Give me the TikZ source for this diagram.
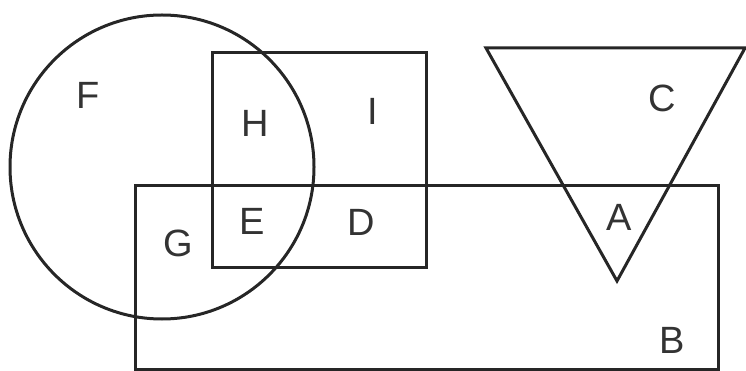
\documentclass[tikz,border=0pt]{standalone}
\usepackage{fontspec}
\setmainfont{Liberation Sans}
\begin{document}
\begin{tikzpicture}[x=1pt,y=-1pt,
  shapeline/.style={draw=black!85,line width=3pt},
  lab/.style={font=\fontsize{38}{40}\selectfont,text=black!80,inner sep=0pt}]
\useasboundingbox (0,0) rectangle (746,371);
\draw[shapeline] (162,167) circle (152);
\draw[shapeline] (212,53) rectangle (426,267);
\draw[shapeline] (135,186) rectangle (718,369);
\draw[shapeline,line join=miter] (486,48) -- (745,48) -- (617,281) -- cycle;
\node[lab] (F) at (88,95) {F};
\node[lab] (H) at (255,123) {H};
\node[lab] (I) at (373,111) {I};
\node[lab] (C) at (662,98) {C};
\node[lab] (G) at (178,243) {G};
\node[lab] (E) at (252,221) {E};
\node[lab] (D) at (361,222) {D};
\node[lab] (A) at (619,217) {A};
\node[lab] (B) at (672,340) {B};
\end{tikzpicture}
\end{document}
